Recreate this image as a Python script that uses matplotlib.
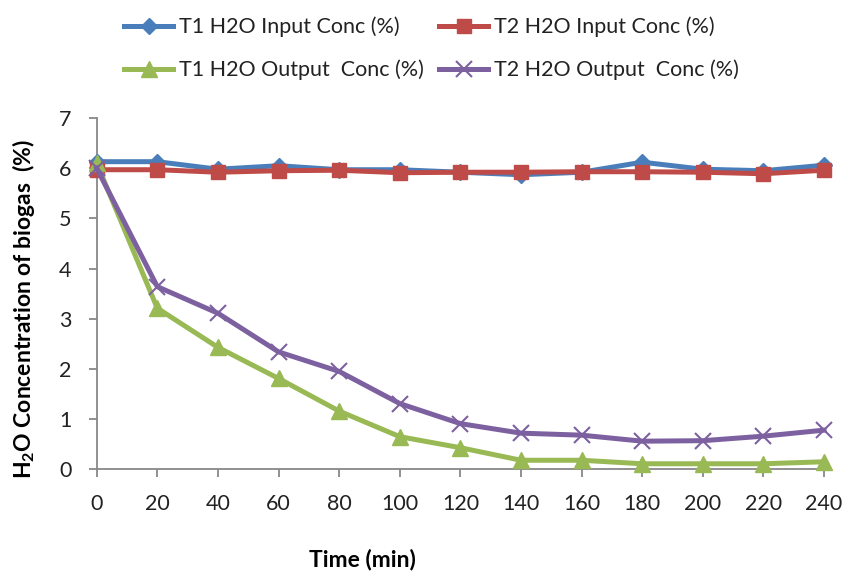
import matplotlib
matplotlib.use("Agg")
import matplotlib.pyplot as plt

plt.rcParams['font.family'] = ['Lato', 'DejaVu Sans']
plt.rcParams['mathtext.fontset'] = 'custom'
plt.rcParams['mathtext.rm'] = 'Lato'
plt.rcParams['mathtext.bf'] = 'Lato:bold'

time_min = [0, 20, 40, 60, 80, 100, 120, 140, 160, 180, 200, 220, 240]
t1_input = [6.13, 6.13, 5.98, 6.05, 5.97, 5.97, 5.92, 5.87, 5.92, 6.12, 5.98, 5.95, 6.06]
t2_input = [5.97, 5.97, 5.92, 5.95, 5.96, 5.91, 5.92, 5.92, 5.93, 5.93, 5.92, 5.89, 5.96]
t1_output = [6.10, 3.21, 2.43, 1.81, 1.16, 0.65, 0.43, 0.18, 0.18, 0.11, 0.11, 0.11, 0.15]
t2_output = [6.00, 3.64, 3.11, 2.34, 1.95, 1.31, 0.91, 0.72, 0.68, 0.56, 0.57, 0.66, 0.78]
labels = ["T1 H2O Input Conc (%)", "T2 H2O Input Conc (%)",
          "T1 H2O Output  Conc (%)", "T2 H2O Output  Conc (%)"]
yticks = [0, 1, 2, 3, 4, 5, 6, 7]
xticks = time_min

fig = plt.figure(figsize=(8.43, 5.73), dpi=100)
ax = fig.add_axes([0.1147, 0.181, 0.8628, 0.613])

lw = 3.6
l1, = ax.plot(time_min, t1_input, color='#4A7EBB', lw=lw, marker='D', ms=8.5,
              clip_on=False, zorder=3)
l2, = ax.plot(time_min, t2_input, color='#BE4B48', lw=lw, marker='s', ms=9.5,
              clip_on=False, zorder=4)
l3, = ax.plot(time_min, t1_output, color='#98B954', lw=lw, marker='^', ms=11,
              clip_on=False, zorder=5)
l4, = ax.plot(time_min, t2_output, color='#7D60A0', lw=lw, marker='x', ms=11,
              mew=1.5, clip_on=False, zorder=6)

ax.set_xlim(0, 240)
ax.set_ylim(0, 7)
ax.set_xticks(xticks)
ax.set_yticks(yticks)
for s in ['top', 'right']:
    ax.spines[s].set_visible(False)
for s in ['left', 'bottom']:
    ax.spines[s].set_color('#888888')
    ax.spines[s].set_linewidth(1.3)
ax.tick_params(axis='both', direction='out', length=6, width=1.3, color='#888888',
               labelsize=15.5, labelcolor='#222222', pad=12)

ax.set_xlabel("Time (min)", fontsize=16.5, fontweight='bold')
ax.xaxis.set_label_coords(0.365, -0.225)
ax.set_ylabel(r"$\mathbf{H_2O}$ Concentration of biogas  (%)", fontsize=16.5,
              fontweight='bold')
ax.yaxis.set_label_coords(-0.082, 0.455)

leg = fig.legend([l1, l3, l2, l4], [labels[0], labels[2], labels[1], labels[3]],
                 ncol=2, loc='upper left', bbox_to_anchor=(0.124, 1.005),
                 frameon=False, fontsize=15.5, handlelength=2.3, handletextpad=0.25,
                 columnspacing=0.7, labelspacing=1.05)
for t in leg.get_texts():
    t.set_color('#222222')

fig.savefig("out.png", dpi=100)
